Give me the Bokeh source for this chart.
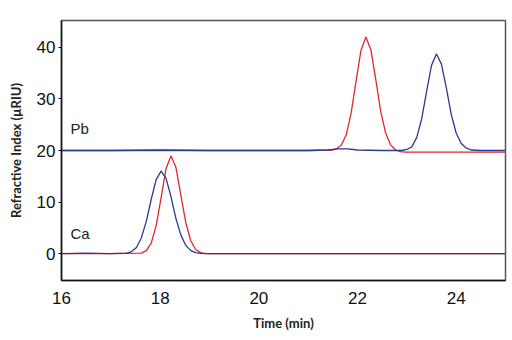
from bokeh.plotting import figure
from bokeh.models import Range1d, Label, FixedTicker
from bokeh.embed import file_html
from bokeh.resources import INLINE

# Pb trace (offset +20), red
pb_red_t = [16.0, 17.0, 18.0, 19.0, 20.0, 21.0, 21.5, 21.57, 21.67, 21.77, 21.87, 21.97, 22.07, 22.17,
            22.27, 22.37, 22.47, 22.57, 22.67, 22.77, 22.87, 22.97, 23.5, 24.0, 24.5, 25.0]
pb_red_y = [20.0, 20.0, 20.0, 20.0, 20.0, 20.0, 20.1, 20.3, 21.0, 23.0, 27.2, 33.4, 39.4, 42.0,
            39.6, 33.8, 27.6, 23.4, 21.1, 20.1, 19.8, 19.7, 19.7, 19.7, 19.7, 19.7]
# Pb trace, blue
pb_blue_t = [16.0, 17.0, 18.0, 19.0, 20.0, 21.0, 21.4, 21.6, 21.8, 22.0, 22.5, 22.9, 23.0, 23.1,
             23.2, 23.3, 23.4, 23.5, 23.6, 23.7, 23.8, 23.9, 24.0, 24.1, 24.2, 24.3, 24.5, 25.0]
pb_blue_y = [20.0, 20.0, 20.1, 20.0, 20.0, 20.0, 20.1, 20.3, 20.3, 20.1, 20.0, 20.0, 20.2, 20.7,
             22.5, 26.1, 31.4, 36.5, 38.7, 36.8, 32.2, 27.0, 23.4, 21.4, 20.5, 20.1, 20.0, 20.0]
# Ca trace, blue
ca_blue_t = [16.0, 16.5, 17.0, 17.32, 17.42, 17.52, 17.62, 17.72, 17.82, 17.92, 18.02, 18.12, 18.22,
             18.32, 18.42, 18.52, 18.62, 18.72, 18.82, 19.0, 20.0, 21.0, 22.0, 23.0, 24.0, 25.0]
ca_blue_y = [0.0, 0.1, 0.0, 0.1, 0.4, 1.2, 3.1, 6.3, 10.6, 14.4, 16.0, 14.6, 11.0,
             6.8, 3.6, 1.6, 0.6, 0.2, 0.05, 0.0, 0.0, 0.0, 0.0, 0.0, 0.0, 0.0]
# Ca trace, red
ca_red_t = [16.0, 17.0, 17.62, 17.72, 17.82, 17.92, 18.02, 18.12, 18.22, 18.32, 18.42, 18.52,
            18.62, 18.72, 18.82, 18.92, 19.5, 20.0, 21.0, 22.0, 23.0, 24.0, 25.0]
ca_red_y = [0.0, 0.0, 0.1, 0.6, 2.1, 5.5, 10.9, 16.5, 19.0, 16.7, 11.3, 6.0,
            2.5, 0.8, 0.2, 0.0, 0.0, 0.0, 0.0, 0.0, 0.0, 0.0, 0.0]

x_ticks = [16, 18, 20, 22, 24]
y_ticks = [0, 10, 20, 30, 40]
trace_labels = ["Pb", "Ca"]
trace_label_y = [24.3, 3.9]

RED = "#e3262b"
BLUE = "#2b3990"

p = figure(width=512, height=340, output_backend="svg", toolbar_location=None,
           x_range=Range1d(16, 25), y_range=Range1d(-5.2, 45.2),
           min_border_left=61, min_border_right=7, min_border_top=20, min_border_bottom=60)
p.background_fill_color = "white"
p.border_fill_color = "white"
p.grid.visible = False
p.outline_line_color = "#555555"
p.outline_line_width = 1.5

p.line(pb_red_t, pb_red_y, line_color=RED, line_width=1.3)
p.line(pb_blue_t, pb_blue_y, line_color=BLUE, line_width=1.3)
p.line(ca_red_t, ca_red_y, line_color=RED, line_width=1.3)
p.line(ca_blue_t, ca_blue_y, line_color=BLUE, line_width=1.3)

for txt, yv in zip(trace_labels, trace_label_y):
    p.add_layout(Label(x=16.18, y=yv, text=txt, text_font="Liberation Sans", text_font_size="15px",
                       text_color="#222222", text_baseline="middle"))

xa = p.xaxis[0]
xa.ticker = FixedTicker(ticks=x_ticks)
xa.major_tick_line_color = None
xa.minor_tick_line_color = None
xa.axis_line_color = "#111111"
xa.axis_line_width = 1.5
xa.major_label_text_font = "Liberation Sans"
xa.major_label_text_font_size = "17px"
xa.major_label_text_color = "#111111"
xa.major_label_standoff = 5
xa.axis_label = "Time (min)"
xa.axis_label_text_font = "Lato"
xa.axis_label_text_font_style = "bold"
xa.axis_label_text_font_size = "13px"
xa.axis_label_text_color = "#222222"
xa.axis_label_standoff = 8

ya = p.yaxis[0]
ya.ticker = FixedTicker(ticks=y_ticks)
ya.major_tick_out = 3
ya.major_tick_in = 0
ya.minor_tick_line_color = None
ya.axis_line_color = "#111111"
ya.axis_line_width = 1.5
ya.major_label_text_font = "Liberation Sans"
ya.major_label_text_font_size = "17px"
ya.major_label_text_color = "#111111"
ya.major_label_standoff = 3
ya.axis_label = "Refractive Index (µRIU)"
ya.axis_label_text_font = "Lato"
ya.axis_label_text_font_style = "bold"
ya.axis_label_text_font_size = "13px"
ya.axis_label_text_color = "#222222"
ya.axis_label_standoff = 10

open("out.html", "w").write(file_html(p, INLINE))
